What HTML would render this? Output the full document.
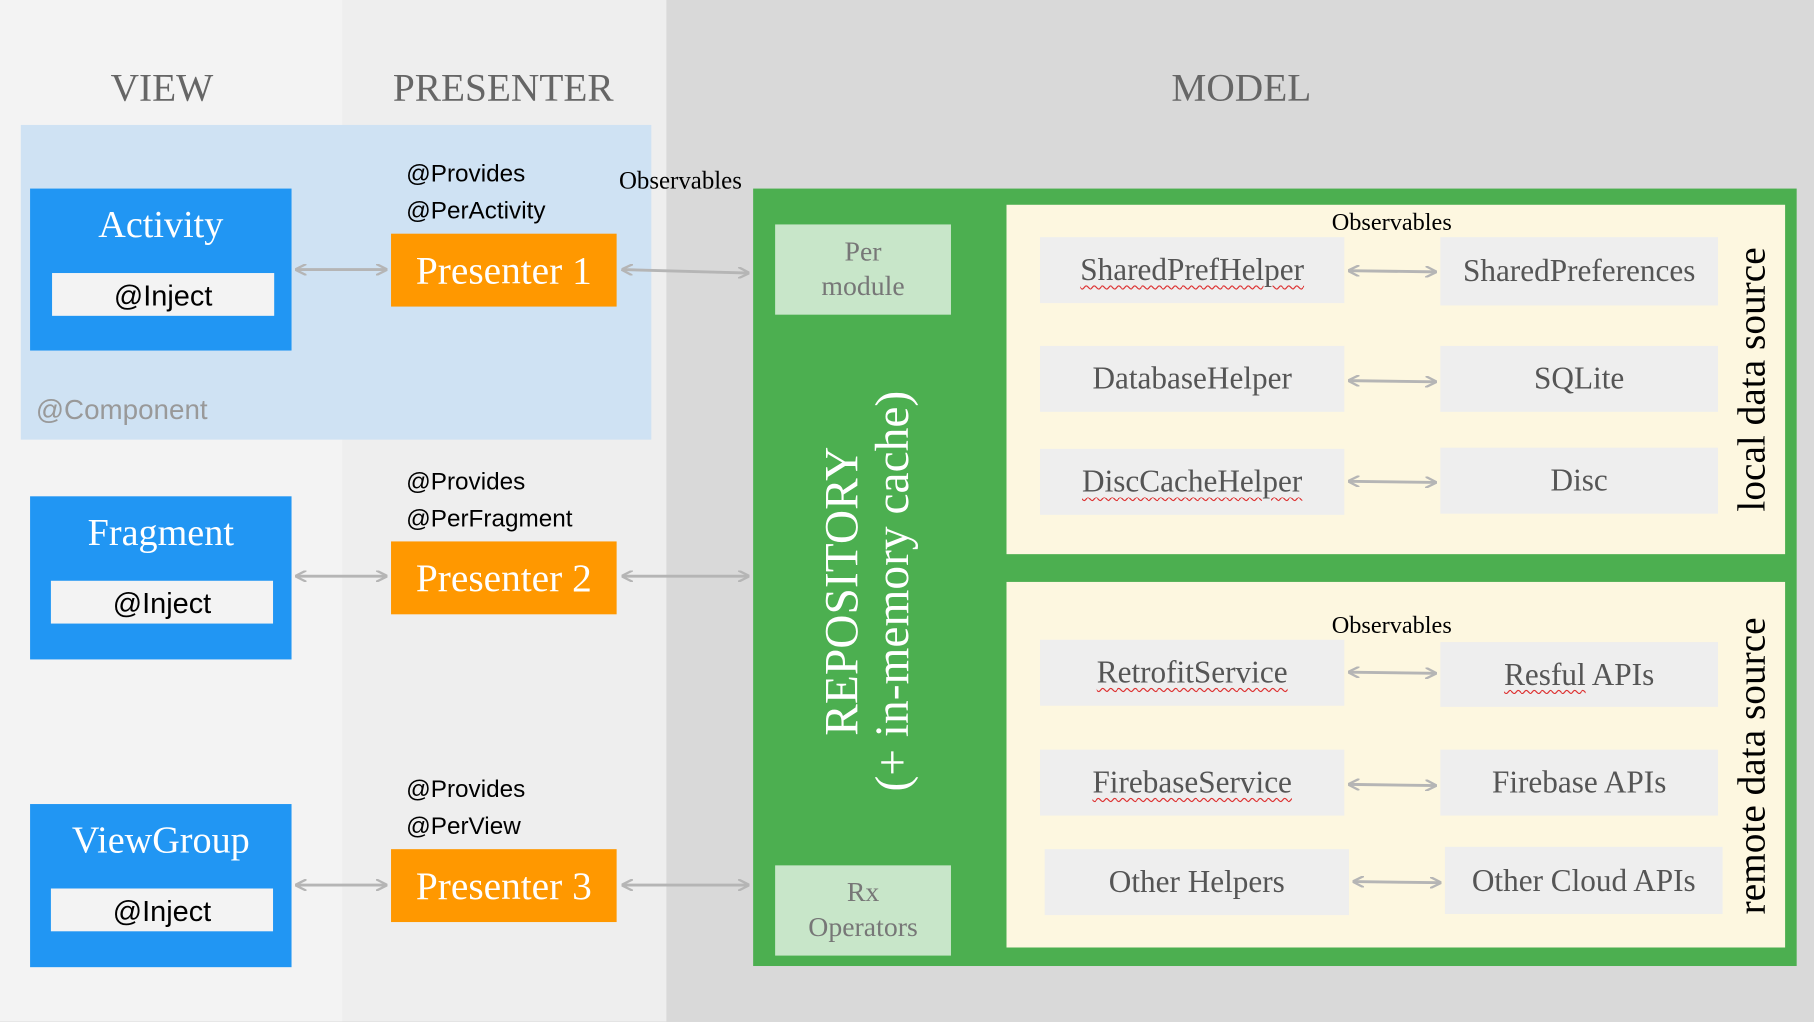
<!DOCTYPE html>
<html><head><meta charset="utf-8"><style>
html,body{margin:0;padding:0;width:1814px;height:1022px;overflow:hidden;background:#d9d9d9}
#w{position:absolute;left:0;top:0;width:1568px;height:883px;transform:scale(1.1569);transform-origin:0 0}
.a{position:absolute;box-sizing:border-box}
.serif{font-family:"Liberation Serif",serif}
.sans{font-family:"Liberation Sans",sans-serif}
.hdr{font-size:34px;color:#666;text-align:center;top:58px}
.blue{background:#2196f3}
.tt{color:#fff;font-size:33px;text-align:center;width:100%;}
.inj{background:#f3f3f3;font-size:25px;text-align:center;color:#000}
.org{background:#ff9800;color:#fff;font-size:34px;text-align:center}
.prov{font-size:21px;color:#000;line-height:32px}
.gb{background:#eeeeee;color:#555;font-size:27px;text-align:center;display:flex;align-items:center;justify-content:center}
.sq{text-decoration:underline wavy #d33;text-decoration-thickness:1px;text-underline-offset:4px}
.lg{background:#c8e6c9;color:#777;font-size:24px;text-align:center;line-height:30px;padding-top:9px}
</style></head><body><div id="w">
<div class="a" style="left:0;top:0;width:296px;height:883px;background:#f3f3f3"></div>
<div class="a" style="left:296px;top:0;width:280px;height:883px;background:#eeeeee"></div>
<div class="a serif hdr" style="left:40px;width:200px">VIEW</div>
<div class="a serif hdr" style="left:300px;width:270px">PRESENTER</div>
<div class="a serif hdr" style="left:973px;width:200px">MODEL</div>
<div class="a" style="left:18px;top:108px;width:545px;height:272px;background:#cfe2f3"></div>
<div class="a sans" style="left:31px;top:341px;font-size:24px;color:#999">@Component</div>

<div class="a blue" style="left:26px;top:163px;width:226px;height:140px"><div class="a serif tt" style="top:14px">Activity</div></div>
<div class="a sans inj" style="left:45px;top:236px;width:192px;height:37px;line-height:40px">@Inject</div>
<div class="a blue" style="left:26px;top:429px;width:226px;height:141px"><div class="a serif tt" style="top:14px">Fragment</div></div>
<div class="a sans inj" style="left:44px;top:502px;width:192px;height:37px;line-height:40px">@Inject</div>
<div class="a blue" style="left:26px;top:695px;width:226px;height:141px"><div class="a serif tt" style="top:14px">ViewGroup</div></div>
<div class="a sans inj" style="left:44px;top:768px;width:192px;height:37px;line-height:40px">@Inject</div>

<div class="a sans prov" style="left:351px;top:135px">@Provides<br>@PerActivity</div>
<div class="a sans prov" style="left:351px;top:401px">@Provides<br>@PerFragment</div>
<div class="a sans prov" style="left:351px;top:667px">@Provides<br>@PerView</div>
<div class="a serif org" style="left:338px;top:202px;width:195px;height:63px;line-height:66px">Presenter 1</div>
<div class="a serif org" style="left:338px;top:468px;width:195px;height:63px;line-height:66px">Presenter 2</div>
<div class="a serif org" style="left:338px;top:734px;width:195px;height:63px;line-height:66px">Presenter 3</div>
<div class="a serif" style="left:535px;top:144px;font-size:21.5px;color:#000">Observables</div>

<div class="a" style="left:651px;top:163px;width:902px;height:672px;background:#4caf50"></div>
<div class="a" style="left:870px;top:177px;width:673px;height:302px;background:#fdf7e0"></div>
<div class="a" style="left:870px;top:503px;width:673px;height:316px;background:#fdf7e0"></div>
<div class="a serif lg" style="left:670px;top:194px;width:152px;height:78px">Per<br>module</div>
<div class="a serif lg" style="left:670px;top:748px;width:152px;height:78px">Rx<br>Operators</div>
<div class="a serif" style="left:510px;top:466px;width:480px;height:90px;transform:rotate(-90deg);color:#fff;font-size:41px;line-height:44px;text-align:center">REPOSITORY<br>(+ in-memory cache)</div>

<div class="a serif" style="left:1103px;top:180px;width:200px;text-align:center;font-size:21px">Observables</div>
<div class="a serif" style="left:1103px;top:528px;width:200px;text-align:center;font-size:21px">Observables</div>
<div class="a serif" style="left:1365px;top:308px;width:300px;height:40px;line-height:40px;transform:rotate(-90deg);text-align:center;font-size:34px;color:#000">local data source</div>
<div class="a serif" style="left:1365px;top:642px;width:300px;height:40px;line-height:40px;transform:rotate(-90deg);text-align:center;font-size:34px;color:#000">remote data source</div>

<div class="a serif gb" style="left:899px;top:205px;width:263px;height:57px"><span class="sq">SharedPrefHelper</span></div>
<div class="a serif gb" style="left:1245px;top:205px;width:240px;height:59px">SharedPreferences</div>
<div class="a serif gb" style="left:899px;top:299px;width:263px;height:57px">DatabaseHelper</div>
<div class="a serif gb" style="left:1245px;top:299px;width:240px;height:57px">SQLite</div>
<div class="a serif gb" style="left:899px;top:388px;width:263px;height:57px"><span class="sq">DiscCacheHelper</span></div>
<div class="a serif gb" style="left:1245px;top:387px;width:240px;height:57px">Disc</div>
<div class="a serif gb" style="left:899px;top:553px;width:263px;height:57px"><span class="sq">RetrofitService</span></div>
<div class="a serif gb" style="left:1245px;top:555px;width:240px;height:56px"><span><span class="sq">Resful</span> APIs</span></div>
<div class="a serif gb" style="left:899px;top:648px;width:263px;height:57px"><span class="sq">FirebaseService</span></div>
<div class="a serif gb" style="left:1245px;top:648px;width:240px;height:57px">Firebase APIs</div>
<div class="a serif gb" style="left:903px;top:734px;width:263px;height:57px">Other Helpers</div>
<div class="a serif gb" style="left:1249px;top:732px;width:240px;height:58px">Other Cloud APIs</div>

<svg class="a" style="left:0;top:0" width="1568" height="883">
<defs><marker id="m" markerWidth="10" markerHeight="10" refX="9" refY="5" orient="auto-start-reverse" markerUnits="userSpaceOnUse"><path d="M0,0 L10,5 L0,10" fill="none" stroke="#b5b5b5" stroke-width="2"/></marker></defs>
<g stroke="#b5b5b5" stroke-width="2.5" fill="none" marker-start="url(#m)" marker-end="url(#m)">
<line x1="256" y1="233" x2="334" y2="233"/>
<line x1="538" y1="233" x2="647" y2="236"/>
<line x1="256" y1="498" x2="334" y2="498"/>
<line x1="538" y1="498" x2="647" y2="498"/>
<line x1="256" y1="765" x2="334" y2="765"/>
<line x1="538" y1="765" x2="647" y2="765"/>
<line x1="1166" y1="234" x2="1241" y2="235"/>
<line x1="1166" y1="329" x2="1241" y2="330"/>
<line x1="1166" y1="416" x2="1241" y2="417"/>
<line x1="1166" y1="581" x2="1241" y2="582"/>
<line x1="1166" y1="678" x2="1241" y2="679"/>
<line x1="1170" y1="762" x2="1245" y2="763"/>
</g></svg>
</div></body></html>
